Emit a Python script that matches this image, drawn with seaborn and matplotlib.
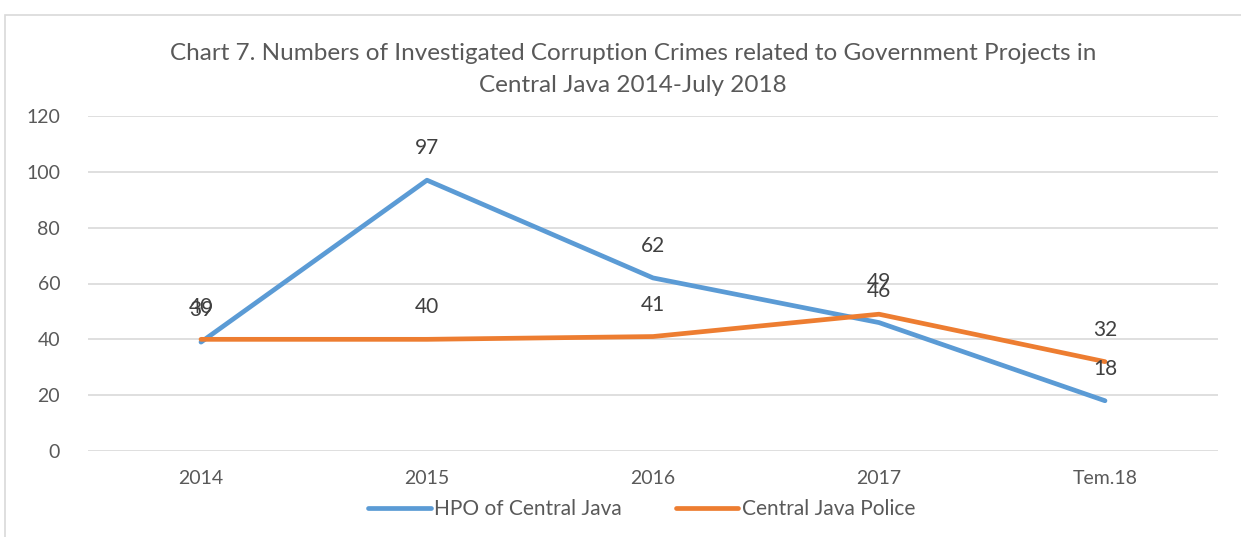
import numpy as np
import pandas as pd
import matplotlib.pyplot as plt
import seaborn as sns
from matplotlib.patches import Rectangle

years = ['2014', '2015', '2016', '2017', 'Tem.18']
hpo = [39, 97, 62, 46, 18]
police = [40, 40, 41, 49, 32]
series_names = ['HPO of Central Java', 'Central Java Police']
colors = ['#5B9BD5', '#ED7D31']

df = pd.DataFrame({
    'year': years * 2,
    'value': hpo + police,
    'series': [series_names[0]] * len(years) + [series_names[1]] * len(years),
})

sns.set_style('white')
plt.rcParams['font.family'] = ['Lato', 'DejaVu Sans']

fig = plt.figure(figsize=(12.41, 5.37), dpi=100)
fig.patches.append(Rectangle((5 / 1241, -0.05), 1.2, 1 - 15 / 537 + 0.05,
                             transform=fig.transFigure, fill=False,
                             edgecolor='#D9D9D9', linewidth=1.2))
ax = fig.add_axes([88 / 1241, 1 - 451 / 537, (1218 - 88) / 1241, (451 - 116) / 537])

sns.lineplot(data=df, x='year', y='value', hue='series', palette=colors,
             linewidth=3.4, sort=False, ax=ax, legend=True,
             solid_capstyle='round')

# data labels above each point
for vals in [hpo, police]:
    for i, v in enumerate(vals):
        ax.annotate(str(v), (i, v), xytext=(0, 23), textcoords='offset points',
                    ha='center', va='center', fontsize=15, color='#404040')

ax.set_xlim(-0.5, len(years) - 0.5)
ax.set_ylim(0, 120)
ax.set_yticks(range(0, 121, 20))
ax.yaxis.grid(True, color='#D9D9D9', linewidth=1.2)
ax.set_axisbelow(True)
for s in ax.spines.values():
    s.set_visible(False)
ax.tick_params(axis='both', length=0, labelsize=14, labelcolor='#595959')
ax.tick_params(axis='x', pad=14)
ax.tick_params(axis='y', pad=20)
ax.set_xlabel('')
ax.set_ylabel('')

fig.text(633 / 1241, 1 - 53 / 537, 'Chart 7. Numbers of Investigated Corruption Crimes related to Government Projects in',
         ha='center', va='center', fontsize=17.5, color='#595959')
fig.text(633 / 1241, 1 - 86 / 537, 'Central Java 2014-July 2018',
         ha='center', va='center', fontsize=17.5, color='#595959')

handles, labels = ax.get_legend_handles_labels()
ax.legend(handles, labels, loc='center', bbox_to_anchor=(0.49, (451 - 509) / (451 - 116)),
          ncol=2, frameon=False, fontsize=15, handlelength=3.0, handletextpad=0.15,
          columnspacing=2.6, labelcolor='#595959')

fig.savefig('out.png', dpi=100)
